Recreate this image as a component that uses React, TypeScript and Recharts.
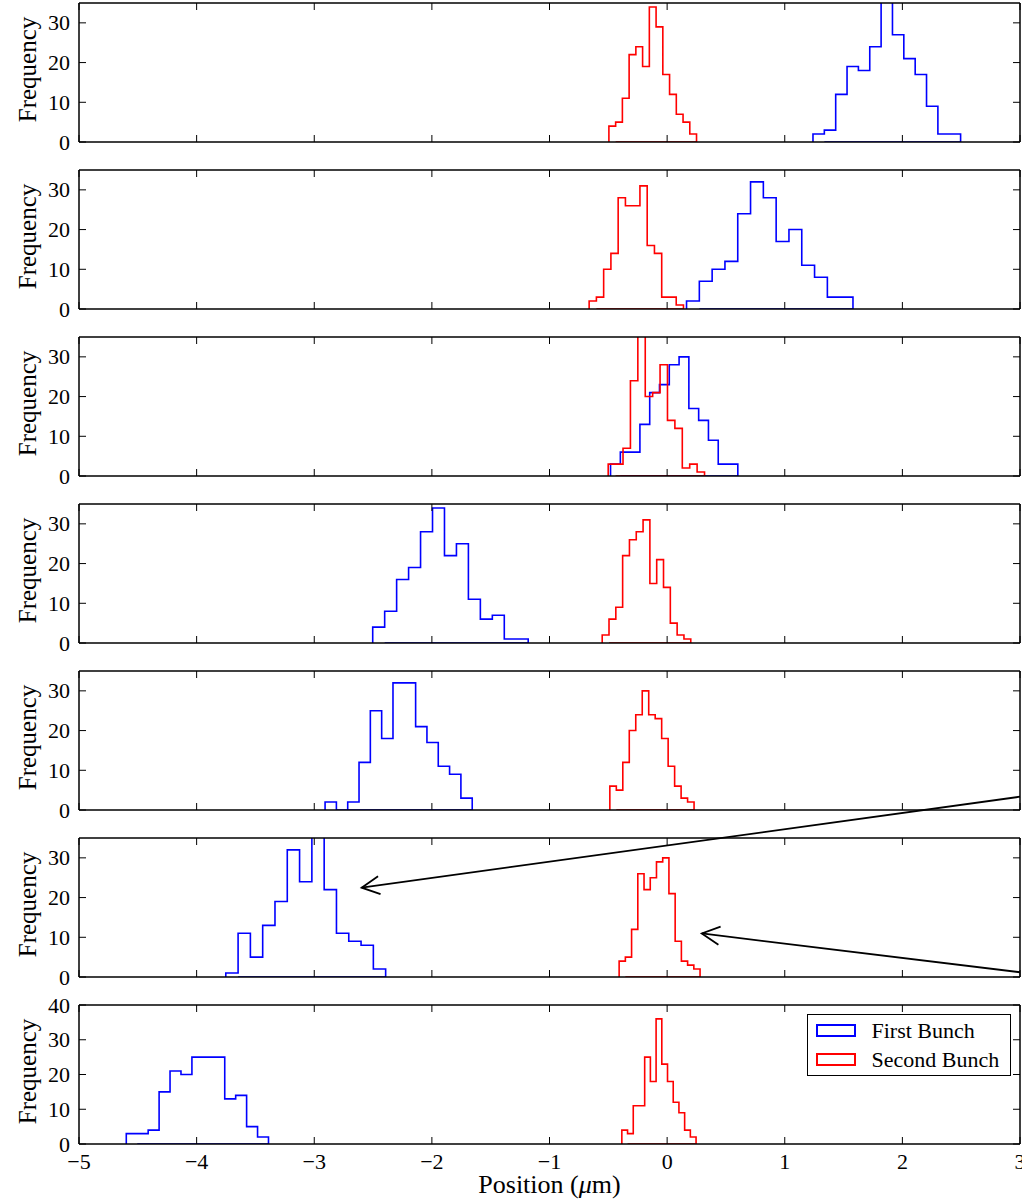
import React from 'react';
import { LineChart, Line, XAxis, YAxis, ReferenceLine, Legend } from 'recharts';

const FONT = '"Liberation Serif", "Times New Roman", serif';

// ---- axis ticks ----
const xTicks = [-5, -4, -3, -2, -1, 0, 1, 2, 3];
const yTicksLow = [0, 10, 20, 30];
const yTicksHigh = [0, 10, 20, 30, 40];
const panelYMax = [35, 35, 35, 35, 35, 35, 40];

// ---- First bunch (blue): range [lo, hi] of the 13 bins, and counts ----
const firstRange = [
  [1.24, 2.495],
  [0.165, 1.58],
  [-0.481, 0.601],
  [-2.503, -1.181],
  [-2.908, -1.657],
  [-3.752, -2.393],
  [-4.598, -3.389],
];
const firstCounts1 = [2, 3, 12, 19, 18, 24, 40, 27, 21, 17, 9, 2, 2];
const firstCounts2 = [2, 7, 10, 12, 24, 32, 28, 17, 20, 11, 8, 3, 3];
const firstCounts3 = [3, 6, 6, 13, 21, 23, 28, 30, 17, 14, 9, 3, 3];
const firstCounts4 = [4, 8, 16, 19, 28, 34, 22, 25, 11, 6, 7, 1, 1];
const firstCounts5 = [2, 0, 2, 12, 25, 18, 32, 32, 21, 17, 11, 9, 3];
const firstCounts6 = [1, 11, 5, 13, 19, 32, 24, 38, 22, 11, 9, 8, 2];
const firstCounts7 = [3, 3, 4, 15, 21, 20, 25, 25, 25, 13, 14, 5, 2];

// ---- Second bunch (red) ----
const secondRange = [
  [-0.495, 0.25],
  [-0.663, 0.139],
  [-0.501, 0.318],
  [-0.552, 0.201],
  [-0.487, 0.229],
  [-0.408, 0.28],
  [-0.385, 0.246],
];
const secondCounts1 = [4, 5, 11, 22, 24, 19, 34, 29, 17, 12, 7, 5, 2];
const secondCounts2 = [2, 3, 10, 14, 28, 26, 26, 31, 16, 14, 3, 3, 1];
const secondCounts3 = [3, 3, 7, 24, 39, 20, 21, 28, 14, 12, 2, 3, 1];
const secondCounts4 = [2, 6, 9, 22, 26, 28, 31, 15, 21, 14, 5, 2, 1];
const secondCounts5 = [6, 5, 12, 20, 24, 30, 24, 23, 18, 11, 6, 3, 2];
const secondCounts6 = [4, 5, 12, 26, 22, 25, 29, 30, 21, 9, 4, 3, 2];
const secondCounts7 = [4, 3, 11, 11, 25, 18, 36, 23, 18, 12, 9, 4, 2];

const firstCounts = [firstCounts1, firstCounts2, firstCounts3, firstCounts4, firstCounts5, firstCounts6, firstCounts7];
const secondCounts = [secondCounts1, secondCounts2, secondCounts3, secondCounts4, secondCounts5, secondCounts6, secondCounts7];

// ---- annotation arrows (in panel-6 data coordinates): tail -> tip ----
const arrowTails = [{ x: 3, y: 45.4 }, { x: 3, y: 1.2 }];
const arrowTips = [{ x: -2.597, y: 22.5 }, { x: 0.295, y: 10.96 }];

// step-histogram outline (matplotlib histtype='step')
function outline(lo: number, hi: number, counts: number[]) {
  const n = counts.length;
  const w = (hi - lo) / n;
  const pts: { x: number; y: number }[] = [{ x: lo, y: 0 }];
  counts.forEach((c, i) => pts.push({ x: lo + i * w, y: c }));
  pts.push({ x: hi, y: 0 });
  pts.push({ x: lo + w, y: 0 });
  return pts;
}

const fmt = (v: number) => (v < 0 ? '\u2212' + Math.abs(v) : String(v));
const TL = 7;

const bottomTick = (labels: boolean) => (p: any) => (
  <g>
    <line x1={p.x} x2={p.x} y1={p.y} y2={p.y - TL} stroke="#000" strokeWidth={1} />
    {labels && (
      <text x={p.x} y={p.y + 25} textAnchor="middle" fontFamily={FONT} fontSize={22} fill="#000">
        {fmt(p.payload.value)}
      </text>
    )}
  </g>
);
const topTick = (p: any) => (
  <line x1={p.x} x2={p.x} y1={p.y} y2={p.y + TL} stroke="#000" strokeWidth={1} />
);
const leftTick = (p: any) => (
  <g>
    <line x1={p.x} x2={p.x + TL} y1={p.y} y2={p.y} stroke="#000" strokeWidth={1} />
    <text x={p.x - 9} y={p.y} textAnchor="end" dominantBaseline="central" fontFamily={FONT} fontSize={22} fill="#000">
      {fmt(p.payload.value)}
    </text>
  </g>
);
const rightTick = (p: any) => (
  <line x1={p.x} x2={p.x - TL} y1={p.y} y2={p.y} stroke="#000" strokeWidth={1} />
);

const YLab = (p: any) => {
  const vb = p.viewBox || {};
  const cx = vb.x + 27;
  const cy = vb.y + vb.height / 2 - 3;
  return (
    <text x={cx} y={cy} transform={`rotate(-90 ${cx} ${cy})`} textAnchor="middle" dominantBaseline="central"
      fontFamily={FONT} fontSize={25} fill="#000">
      Frequency
    </text>
  );
};

const XLab = (p: any) => {
  const vb = p.viewBox || {};
  const cx = vb.x + vb.width / 2;
  const y = vb.y + 49;
  return (
    <text x={cx} y={y} textAnchor="middle" fontFamily={FONT} fontSize={26} fill="#000">
      Position (<tspan fontStyle="italic">{'\u03bc'}</tspan>m)
    </text>
  );
};

const ArrowShape = (p: any) => {
  const { x1, y1, x2, y2 } = p;
  if (![x1, y1, x2, y2].every((v) => typeof v === 'number' && isFinite(v))) return null;
  const ang = Math.atan2(y1 - y2, x1 - x2);
  const L = 20;
  const a = (27 * Math.PI) / 180;
  const ax = x2 + L * Math.cos(ang + a);
  const ay = y2 + L * Math.sin(ang + a);
  const bx = x2 + L * Math.cos(ang - a);
  const by = y2 + L * Math.sin(ang - a);
  return (
    <g>
      <line x1={x1} y1={y1} x2={x2} y2={y2} stroke="#000" strokeWidth={1.8} />
      <polyline points={`${ax},${ay} ${x2},${y2} ${bx},${by}`} fill="none" stroke="#000" strokeWidth={1.8} />
    </g>
  );
};

const LegendBox = (props: any) => {
  const payload = props.payload || [];
  return (
    <div style={{ position: 'relative', width: 204, height: 62, border: '1.5px solid #000', boxSizing: 'border-box', background: '#fff', fontFamily: FONT }}>
      {payload.map((e: any, i: number) => (
        <div key={i} style={{ position: 'absolute', left: 7.5, top: 6.5 + 29 * i, height: 18, display: 'flex', alignItems: 'center', whiteSpace: 'nowrap' }}>
          <div style={{ width: 40, height: 13, border: `2px solid ${e.color}`, boxSizing: 'border-box' }} />
          <span style={{ marginLeft: 16, fontSize: 22, lineHeight: '18px', color: '#000' }}>{e.value}</span>
        </div>
      ))}
    </div>
  );
};

type PanelProps = { index: number };

function Panel({ index }: PanelProps) {
  const isLast = index === 6;
  const hasArrows = index === 5;
  const extraTop = hasArrows ? 60 : isLast ? 10 : 0;
  const chartTop = 167 * index - extraTop;
  const bottomH = isLast ? 55 : 25;
  const height = 3 + 139 + bottomH + extraTop;
  const ymax = panelYMax[index];
  const yTicks = isLast ? yTicksHigh : yTicksLow;
  const first = outline(firstRange[index][0], firstRange[index][1], firstCounts[index]);
  const second = outline(secondRange[index][0], secondRange[index][1], secondCounts[index]);
  return (
    <div style={{ position: 'absolute', left: 0, top: chartTop, width: 1022, height }}>
      <LineChart width={1022} height={height} margin={{ top: extraTop, right: 0, bottom: 0, left: 0 }}>
        <XAxis xAxisId="b" type="number" dataKey="x" domain={[-5, 3]} ticks={xTicks} allowDataOverflow interval={0}
          height={bottomH} tickSize={0} tickMargin={0} tickLine={false} tick={bottomTick(isLast)}
          axisLine={{ stroke: '#000', strokeWidth: 1.5 }} label={isLast ? <XLab /> : undefined} />
        <XAxis xAxisId="t" orientation="top" type="number" dataKey="x" domain={[-5, 3]} ticks={xTicks} allowDataOverflow interval={0}
          height={3} tickSize={0} tickMargin={0} tickLine={false} tick={topTick}
          axisLine={{ stroke: '#000', strokeWidth: 1.5 }} />
        <YAxis yAxisId="l" type="number" domain={[0, ymax]} ticks={yTicks} allowDataOverflow interval={0}
          width={79} tickSize={0} tickMargin={0} tickLine={false} tick={leftTick}
          axisLine={{ stroke: '#000', strokeWidth: 1.5 }} label={<YLab />} />
        <YAxis yAxisId="r" orientation="right" type="number" domain={[0, ymax]} ticks={yTicks} allowDataOverflow interval={0}
          width={2} tickSize={0} tickMargin={0} tickLine={false} tick={rightTick}
          axisLine={{ stroke: '#000', strokeWidth: 1.5 }} />
        <Line xAxisId="b" yAxisId="l" data={first} dataKey="y" type="stepAfter" stroke="#0000ff" strokeWidth={1.6}
          dot={false} activeDot={false} isAnimationActive={false} name="First Bunch" />
        <Line xAxisId="t" yAxisId="r" data={second} dataKey="y" type="stepAfter" stroke="#ff0000" strokeWidth={1.6}
          dot={false} activeDot={false} isAnimationActive={false} name="Second Bunch" />
        {hasArrows &&
          arrowTails.map((t, i) => (
            <ReferenceLine key={i} xAxisId="b" yAxisId="l" segment={[t, arrowTips[i]]} ifOverflow="visible"
              shape={ArrowShape} stroke="#000" />
          ))}
        {isLast && (
          <Legend content={LegendBox} layout="horizontal" verticalAlign="middle" align="center"
            wrapperStyle={{ left: 807, top: 12 + extraTop, width: 204, height: 62 }} />
        )}
      </LineChart>
    </div>
  );
}

export default function App() {
  return (
    <div style={{ position: 'absolute', left: 0, top: 0, width: 1022, height: 1199, background: '#fff', overflow: 'hidden' }}>
      {[0, 1, 2, 3, 4, 5, 6].map((i) => (
        <Panel key={i} index={i} />
      ))}
    </div>
  );
}
